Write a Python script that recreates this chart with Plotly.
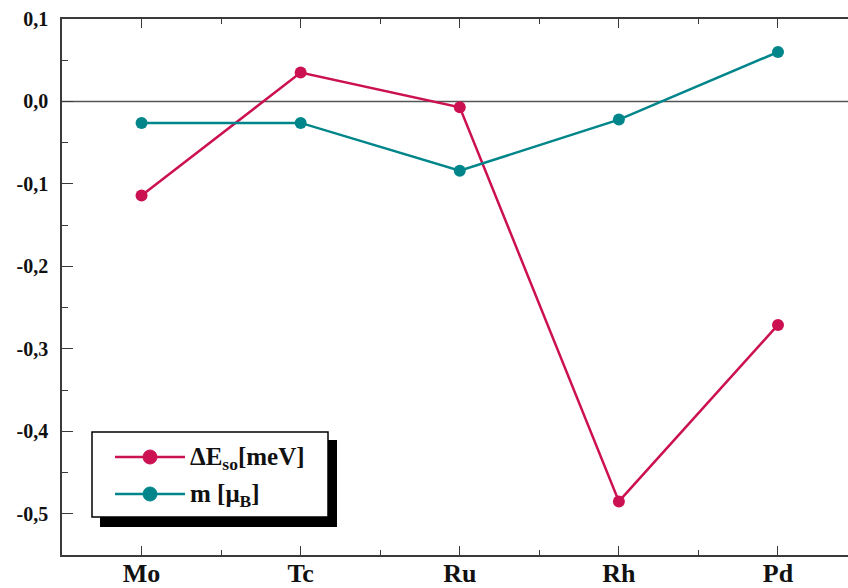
import plotly.graph_objects as go

# Elements along the 4d series
elements = ["Mo", "Tc", "Ru", "Rh", "Pd"]
# spin-orbit energy difference [meV]
delta_e_so = [-0.114, 0.035, -0.007, -0.485, -0.271]
# magnetic moment [mu_B]
moment = [-0.026, -0.026, -0.084, -0.022, 0.060]

y_tickvals = [0.1, 0.0, -0.1, -0.2, -0.3, -0.4, -0.5]
y_ticktext = ["0,1", "0,0", "-0,1", "-0,2", "-0,3", "-0,4", "-0,5"]

RED = "#CC1152"
TEAL = "#00868A"
AXIS = "#3a3a3a"
FONT = "Liberation Serif, Times New Roman, serif"

W, H = 848, 588
ML, MR, MT, MB = 62, 0, 19, 33
PW, PH = W - ML - MR, H - MT - MB

xs = list(range(len(elements)))

fig = go.Figure()
fig.add_trace(go.Scatter(
    x=xs, y=delta_e_so, mode="lines+markers",
    line=dict(color=RED, width=2.5),
    marker=dict(color=RED, size=12),
    showlegend=False,
))
fig.add_trace(go.Scatter(
    x=xs, y=moment, mode="lines+markers",
    line=dict(color=TEAL, width=2.5),
    marker=dict(color=TEAL, size=12),
    showlegend=False,
))


def px(x):
    return (x - ML) / PW


def py(y):
    return (H - MB - y) / PH


shapes = [
    # zero line
    dict(type="line", xref="paper", yref="y", x0=0, x1=1, y0=0, y1=0,
         line=dict(color="#555555", width=1.6), layer="below"),
    # legend shadow and frame
    dict(type="rect", xref="paper", yref="paper",
         x0=px(100), x1=px(337), y0=py(527), y1=py(440),
         fillcolor="black", line=dict(width=0)),
    dict(type="rect", xref="paper", yref="paper",
         x0=px(92), x1=px(328), y0=py(517), y1=py(432),
         fillcolor="white", line=dict(color="black", width=1.5)),
]
legend_rows = [(457, RED, "ΔE<sub>so</sub>[meV]"), (494, TEAL, "m [μ<sub>B</sub>]")]
annotations = []
for yrow, col, label in legend_rows:
    shapes.append(dict(type="line", xref="paper", yref="paper",
                       x0=px(115), x1=px(185), y0=py(yrow), y1=py(yrow),
                       line=dict(color=col, width=2.5)))
    shapes.append(dict(type="circle", xref="paper", yref="paper",
                       x0=px(143), x1=px(157), y0=py(yrow + 7), y1=py(yrow - 7),
                       fillcolor=col, line=dict(color=col, width=1)))
    annotations.append(dict(xref="paper", yref="paper", x=px(188), y=py(yrow + 1),
                            xanchor="left", yanchor="middle", showarrow=False,
                            text="<b>" + label + "</b>",
                            font=dict(family=FONT, size=25, color="#111111")))

fig.update_layout(
    width=W, height=H,
    margin=dict(l=ML, r=MR, t=MT, b=MB, pad=0, autoexpand=False),
    plot_bgcolor="white", paper_bgcolor="white",
    shapes=shapes, annotations=annotations,
    font=dict(family=FONT, color="#111111"),
)
fig.update_xaxes(
    range=[-0.5, 4.44], tickvals=xs, automargin=False,
    ticktext=["<b>%s</b>" % e for e in elements],
    tickfont=dict(family=FONT, size=26, color="#111111"),
    showgrid=False, zeroline=False,
    showline=True, linecolor=AXIS, linewidth=1.5, mirror="ticks",
    ticks="inside", ticklen=9, tickwidth=1.2, tickcolor=AXIS,
    ticklabelstandoff=-6,
    minor=dict(tickvals=[0.5, 1.5, 2.5, 3.5], ticks="inside", ticklen=5,
               tickwidth=1.2, tickcolor=AXIS, showgrid=False),
)
fig.update_yaxes(
    range=[-0.55, 0.1], tickvals=y_tickvals, automargin=False,
    ticktext=["<b>%s</b>" % t for t in y_ticktext],
    tickfont=dict(family=FONT, size=20, color="#111111"),
    showgrid=False, zeroline=False,
    showline=True, linecolor=AXIS, linewidth=1.5,
    ticks="inside", ticklen=11, tickwidth=1.2, tickcolor=AXIS,
    ticklabelstandoff=8,
    minor=dict(dtick=0.05, tick0=0, ticks="inside", ticklen=6,
               tickwidth=1.2, tickcolor=AXIS, showgrid=False),
)

fig.write_html("out.html")
